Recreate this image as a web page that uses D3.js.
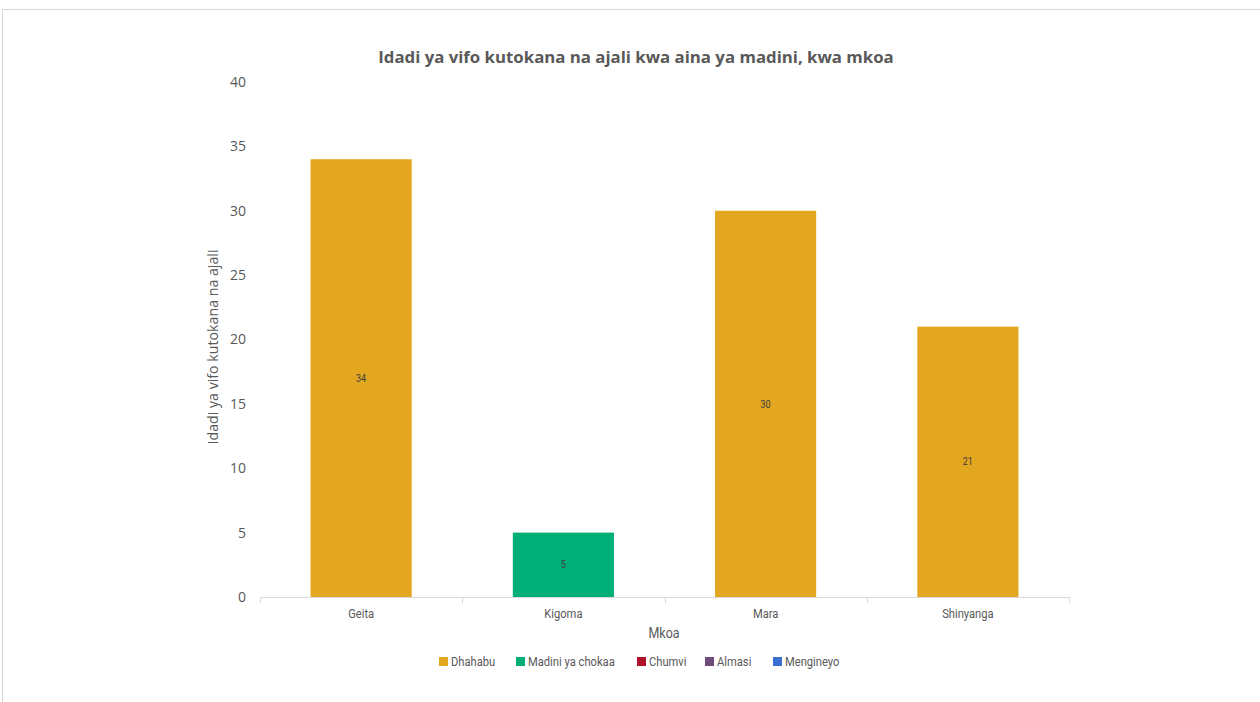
<!DOCTYPE html>
<html><head><meta charset="utf-8">
<script src="https://cdn.jsdelivr.net/npm/d3@7"></script>
<style>
html,body{margin:0;padding:0;background:#fff;}
svg{display:block;}
</style></head>
<body>
<svg id="c" width="1260" height="702"></svg>
<script>
const categories = ["Geita", "Kigoma", "Mara", "Shinyanga"];
const seriesNames = ["Dhahabu", "Madini ya chokaa", "Chumvi", "Almasi", "Mengineyo"];
const dhahabu = [34, 0, 30, 21];
const madiniYaChokaa = [0, 5, 0, 0];
const chumvi = [0, 0, 0, 0];
const almasi = [0, 0, 0, 0];
const mengineyo = [0, 0, 0, 0];
const seriesColors = ["#E3A61F", "#00AE78", "#B0122B", "#6E4B7B", "#3A6FD2"];
const yTicks = [0, 5, 10, 15, 20, 25, 30, 35, 40];
const titleText = "Idadi ya vifo kutokana na ajali kwa aina ya madini, kwa mkoa";
const yTitle = "Idadi ya vifo kutokana na ajali";
const xTitle = "Mkoa";

(function () {
const seriesValues = [dhahabu, madiniYaChokaa, chumvi, almasi, mengineyo];
const table = categories.map((c, i) => {
  const row = {cat: c};
  seriesNames.forEach((s, j) => row[s] = seriesValues[j][i]);
  return row;
});
const NARROW = 0.86;
const narrowFont = "Roboto, 'Noto Sans', sans-serif";

const svg = d3.select("#c");
svg.append("rect").attr("x", 2.5).attr("y", 9.5).attr("width", 1270).attr("height", 710)
  .attr("fill", "none").attr("stroke", "#d9d9d9");

const pl = 260, pr = 1069, pt = 82, pb = 597;
const x = d3.scaleBand().domain(categories).range([pl, pr]).paddingInner(0.5).paddingOuter(0.25);
const xb = d3.scaleBand().domain(categories).range([pl, pr]);
const y = d3.scaleLinear().domain([0, 40]).range([pb, pt]);

const stack = d3.stack().keys(seriesNames)(table);

const g = svg.append("g");
stack.forEach((layer, j) => {
  const segs = layer.filter(d => d[1] - d[0] > 0);
  g.selectAll(null).data(segs).enter()
    .append("rect")
    .attr("x", d => x(d.data.cat))
    .attr("width", x.bandwidth())
    .attr("y", d => y(d[1]))
    .attr("height", d => y(d[0]) - y(d[1]))
    .attr("fill", seriesColors[j]);
  g.selectAll(null).data(segs).enter()
    .append("text")
    .attr("transform", d => `translate(${x(d.data.cat) + x.bandwidth() / 2},${(y(d[0]) + y(d[1])) / 2}) scale(${NARROW},1)`)
    .attr("dy", "0.35em")
    .attr("text-anchor", "middle")
    .attr("font-family", narrowFont)
    .attr("font-size", 10.5)
    .attr("fill", "#404040")
    .text(d => d[1] - d[0]);
});

const xAxis = svg.append("g");
xAxis.append("line").attr("x1", pl).attr("x2", pr).attr("y1", pb + 0.5).attr("y2", pb + 0.5)
  .attr("stroke", "#d9d9d9");
const bounds = categories.map(c => xb(c)).concat([pr]);
xAxis.selectAll(null).data(bounds).enter().append("line")
  .attr("x1", d => Math.round(d) + 0.5).attr("x2", d => Math.round(d) + 0.5)
  .attr("y1", pb).attr("y2", pb + 6).attr("stroke", "#d9d9d9");
xAxis.selectAll(null).data(categories).enter().append("text")
  .attr("transform", d => `translate(${xb(d) + xb.bandwidth() / 2},618) scale(${NARROW},1)`)
  .attr("text-anchor", "middle")
  .attr("font-family", narrowFont)
  .attr("font-size", 13)
  .attr("fill", "#595959")
  .text(d => d);

const yAxis = d3.axisLeft(y).tickValues(yTicks).tickSize(0).tickPadding(14);
const ya = svg.append("g").attr("transform", `translate(${pl},0)`).call(yAxis);
ya.select(".domain").remove();
ya.selectAll("text").attr("font-family", "'Open Sans',sans-serif").attr("font-size", 14).attr("fill", "#595959");

svg.append("text").attr("x", 636).attr("y", 63).attr("text-anchor", "middle")
  .attr("font-family", "'Open Sans',sans-serif").attr("font-weight", "bold").attr("font-size", 16.8)
  .attr("fill", "#595959").text(titleText);
svg.append("text").attr("transform", "translate(218,347) rotate(-90)").attr("text-anchor", "middle")
  .attr("font-family", "'Open Sans',sans-serif").attr("font-size", 14.2)
  .attr("fill", "#595959").text(yTitle);
svg.append("text").attr("transform", `translate(664,638) scale(${NARROW},1)`).attr("text-anchor", "middle")
  .attr("font-family", narrowFont).attr("font-size", 14.5)
  .attr("fill", "#595959").text(xTitle);

const legendX = [439, 516, 637, 705, 773];
const lg = svg.append("g");
seriesNames.forEach((s, j) => {
  lg.append("rect").attr("x", legendX[j]).attr("y", 657).attr("width", 9).attr("height", 9).attr("fill", seriesColors[j]);
  lg.append("text").attr("transform", `translate(${legendX[j] + 12},666) scale(${NARROW},1)`)
    .attr("font-family", narrowFont).attr("font-size", 13)
    .attr("fill", "#595959").text(s);
});
})();
</script>
</body></html>
